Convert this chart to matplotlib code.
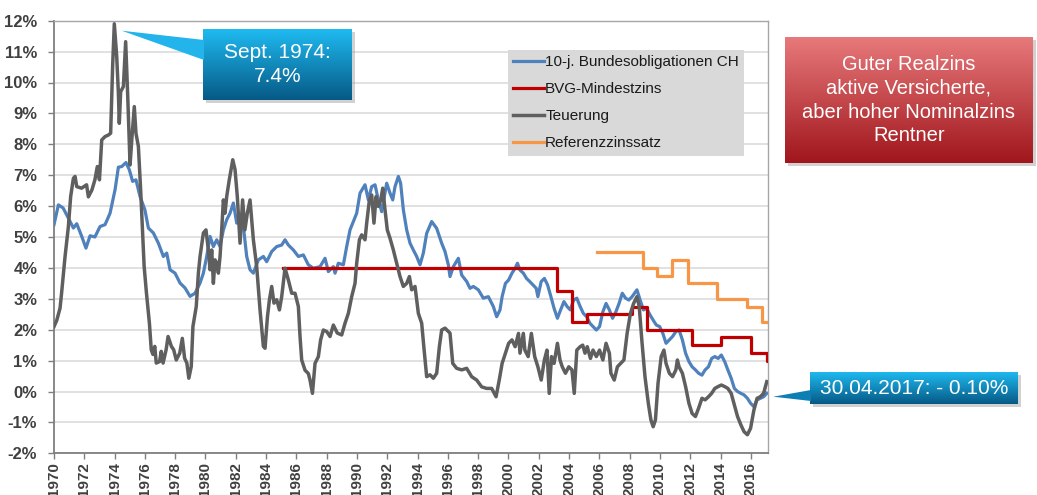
import numpy as np
import matplotlib
matplotlib.use('Agg')
import matplotlib.pyplot as plt
from matplotlib.patches import Polygon, Rectangle
from matplotlib.colors import LinearSegmentedColormap

plt.rcParams['font.family'] = ['Liberation Sans', 'DejaVu Sans']

# ---------------- data ----------------
bond_years = [1970.0, 1970.29, 1970.6, 1970.95, 1971.28, 1971.5, 1971.83, 1972.11, 1972.38, 1972.7,
              1973.04, 1973.37, 1973.7, 1974.03, 1974.25, 1974.47, 1974.75, 1974.97, 1975.19, 1975.41,
              1975.68, 1976.0, 1976.23, 1976.56, 1976.89, 1977.22, 1977.44, 1977.66, 1977.99, 1978.32,
              1978.65, 1978.98, 1979.31, 1979.64, 1979.86, 1980.08, 1980.3, 1980.52, 1980.74, 1980.96,
              1981.18, 1981.4, 1981.62, 1981.84, 1982.06, 1982.28, 1982.5, 1982.72, 1982.94, 1983.16,
              1983.49, 1983.82, 1984.04, 1984.37, 1984.7, 1985.03, 1985.25, 1985.47, 1985.8, 1986.13,
              1986.46, 1986.79, 1987.12, 1987.56, 1987.89, 1988.11, 1988.44, 1988.55, 1988.77, 1989.1,
              1989.32, 1989.54, 1989.76, 1989.98, 1990.2, 1990.53, 1990.75, 1990.97, 1991.19, 1991.41,
              1991.63, 1991.96, 1992.18, 1992.36, 1992.51, 1992.73, 1992.88, 1993.06, 1993.28, 1993.5,
              1993.72, 1993.94, 1994.16, 1994.38, 1994.6, 1994.93, 1995.26, 1995.59, 1995.81, 1996.03,
              1996.14, 1996.36, 1996.69, 1996.91, 1997.24, 1997.46, 1997.68, 1998.01, 1998.34, 1998.67,
              1999.0, 1999.22, 1999.44, 1999.58, 1999.8, 2000.01, 2000.23, 2000.44, 2000.59, 2000.76,
              2000.98, 2001.19, 2001.4, 2001.62, 2001.83, 2001.94, 2002.16, 2002.37, 2002.58, 2002.8,
              2003.01, 2003.23, 2003.44, 2003.66, 2003.87, 2004.08, 2004.3, 2004.51, 2004.73, 2004.94,
              2005.16, 2005.37, 2005.58, 2005.8, 2006.01, 2006.23, 2006.44, 2006.66, 2006.87, 2007.09,
              2007.3, 2007.51, 2007.73, 2007.94, 2008.16, 2008.48, 2008.69, 2008.91, 2009.12, 2009.34,
              2009.55, 2009.76, 2009.98, 2010.19, 2010.4, 2010.62, 2010.83, 2011.05, 2011.26, 2011.48,
              2011.69, 2011.91, 2012.12, 2012.34, 2012.55, 2012.77, 2012.98, 2013.2, 2013.41, 2013.62,
              2013.84, 2014.05, 2014.27, 2014.48, 2014.7, 2014.91, 2015.12, 2015.34, 2015.55, 2015.77,
              2015.98, 2016.2, 2016.41, 2016.62, 2016.84, 2017.05]
bond_vals = [5.40, 6.04, 5.94, 5.61, 5.29, 5.43, 5.02, 4.64, 5.04, 5.00,
             5.34, 5.40, 5.77, 6.53, 7.26, 7.28, 7.41, 7.18, 6.80, 6.85,
             6.31, 5.88, 5.29, 5.13, 4.80, 4.37, 4.48, 3.94, 3.83, 3.51,
             3.35, 3.08, 3.18, 3.51, 3.83, 4.37, 5.02, 4.69, 4.91, 4.69,
             5.23, 5.56, 5.77, 6.10, 5.45, 5.67, 5.34, 4.37, 3.94, 3.83,
             4.26, 4.37, 4.20, 4.53, 4.69, 4.74, 4.91, 4.74, 4.58, 4.37,
             4.42, 4.10, 3.99, 4.04, 4.31, 3.88, 4.04, 3.83, 4.15, 4.10,
             4.69, 5.23, 5.50, 5.77, 6.42, 6.69, 6.20, 6.63, 6.69, 6.20,
             5.82, 6.74, 6.42, 6.20, 6.63, 6.96, 6.74, 5.88, 5.23, 4.80,
             4.58, 4.37, 4.10, 4.48, 5.12, 5.50, 5.28, 4.80, 4.53, 4.10,
             3.72, 4.04, 4.31, 3.77, 3.56, 3.34, 3.40, 3.29, 3.02, 3.07,
             2.75, 2.42, 2.64, 3.07, 3.50, 3.61, 3.83, 3.99, 4.15, 3.93,
             3.83, 3.66, 3.56, 3.45, 3.34, 3.07, 3.56, 3.66, 3.45, 3.07,
             2.69, 2.37, 2.64, 2.91, 2.75, 2.64, 2.96, 3.02, 2.75, 2.53,
             2.42, 2.21, 2.10, 1.99, 2.10, 2.58, 2.85, 2.64, 2.37, 2.58,
             2.85, 3.18, 3.02, 2.96, 3.07, 3.29, 2.96, 2.64, 2.69, 2.48,
             2.31, 2.15, 2.10, 1.88, 1.56, 1.67, 1.78, 1.94, 1.99, 1.67,
             1.24, 0.97, 0.80, 0.70, 0.59, 0.53, 0.70, 0.80, 1.07, 1.13,
             1.07, 1.18, 0.97, 0.70, 0.43, 0.10, 0.00, -0.06, -0.11, -0.22,
             -0.38, -0.49, -0.27, -0.22, -0.17, -0.06]

cpi_years = [1970.0, 1970.18, 1970.4, 1970.5, 1970.73, 1970.95, 1971.1, 1971.28, 1971.39, 1971.5,
             1971.82, 1972.15, 1972.27, 1972.5, 1972.7, 1972.86, 1973.0, 1973.15, 1973.37, 1973.59,
             1973.74, 1973.87, 1973.98, 1974.14, 1974.25, 1974.31, 1974.4, 1974.58, 1974.73, 1974.86,
             1975.02, 1975.15, 1975.3, 1975.41, 1975.57, 1975.72, 1975.85, 1975.95, 1976.1, 1976.3,
             1976.42, 1976.53, 1976.65, 1976.75, 1976.97, 1977.08, 1977.2, 1977.4, 1977.53, 1977.75,
             1977.9, 1978.07, 1978.3, 1978.47, 1978.62, 1978.77, 1978.9, 1979.06, 1979.17, 1979.39,
             1979.53, 1979.64, 1979.86, 1980.03, 1980.19, 1980.3, 1980.41, 1980.52, 1980.63, 1980.74,
             1980.85, 1980.96, 1981.07, 1981.18, 1981.29, 1981.4, 1981.57, 1981.8, 1981.95, 1982.1,
             1982.28, 1982.45, 1982.6, 1982.76, 1982.94, 1983.16, 1983.38, 1983.6, 1983.82, 1983.93,
             1984.09, 1984.22, 1984.37, 1984.52, 1984.7, 1984.88, 1985.03, 1985.25, 1985.47, 1985.69,
             1985.91, 1986.13, 1986.24, 1986.35, 1986.57, 1986.79, 1986.9, 1987.06, 1987.23, 1987.45,
             1987.6, 1987.78, 1988.0, 1988.22, 1988.44, 1988.7, 1988.99, 1989.21, 1989.43, 1989.65,
             1989.87, 1989.98, 1990.16, 1990.31, 1990.53, 1990.64, 1990.82, 1990.97, 1991.12, 1991.26,
             1991.41, 1991.57, 1991.7, 1991.85, 1992.0, 1992.18, 1992.4, 1992.62, 1992.84, 1993.06,
             1993.28, 1993.46, 1993.61, 1993.83, 1994.05, 1994.27, 1994.43, 1994.6, 1994.82, 1995.04,
             1995.26, 1995.44, 1995.59, 1995.81, 1996.14, 1996.32, 1996.58, 1996.91, 1997.24, 1997.57,
             1997.9, 1998.23, 1998.56, 1998.89, 1999.18, 1999.4, 1999.58, 1999.8, 2000.01, 2000.23,
             2000.44, 2000.66, 2000.76, 2000.98, 2001.08, 2001.3, 2001.51, 2001.73, 2001.94, 2002.16,
             2002.37, 2002.54, 2002.69, 2002.84, 2003.01, 2003.23, 2003.4, 2003.55, 2003.76, 2003.98,
             2004.19, 2004.34, 2004.51, 2004.73, 2004.9, 2005.05, 2005.2, 2005.41, 2005.58, 2005.8,
             2006.01, 2006.23, 2006.44, 2006.66, 2006.76, 2006.98, 2007.19, 2007.4, 2007.62, 2007.83,
             2008.05, 2008.26, 2008.48, 2008.63, 2008.8, 2009.01, 2009.23, 2009.4, 2009.55, 2009.7,
             2009.87, 2010.08, 2010.26, 2010.4, 2010.62, 2010.83, 2011.05, 2011.15, 2011.26, 2011.48,
             2011.69, 2011.91, 2012.12, 2012.34, 2012.55, 2012.77, 2012.98, 2013.2, 2013.41, 2013.62,
             2013.84, 2014.05, 2014.27, 2014.48, 2014.7, 2014.91, 2015.12, 2015.34, 2015.55, 2015.77,
             2015.98, 2016.2, 2016.41, 2016.62, 2016.84, 2017.05]
cpi_vals = [2.10, 2.30, 2.70, 3.18, 4.37, 5.34, 6.31, 6.90, 6.96, 6.63,
            6.58, 6.69, 6.30, 6.52, 6.85, 7.28, 6.85, 8.14, 8.25, 8.30,
            8.36, 10.52, 11.90, 10.84, 9.65, 8.68, 9.70, 9.87, 11.32, 9.65,
            7.33, 8.25, 9.22, 8.36, 7.93, 6.52, 5.12, 4.05, 3.20, 2.20,
            1.35, 1.20, 1.46, 0.92, 0.97, 1.30, 0.92, 1.35, 1.78, 1.46,
            1.35, 1.02, 1.24, 1.72, 1.08, 0.92, 0.43, 0.81, 2.10, 2.75,
            3.83, 4.37, 5.13, 5.23, 4.58, 3.94, 4.58, 3.50, 4.26, 4.16,
            3.83, 4.37, 5.23, 6.20, 5.77, 6.31, 6.85, 7.50, 7.18, 6.31,
            4.80, 6.20, 5.23, 5.77, 6.20, 4.91, 4.04, 2.64, 1.46, 1.40,
            2.42, 2.97, 3.40, 2.86, 2.97, 2.64, 3.07, 3.99, 3.61, 3.18,
            3.18, 2.75, 1.78, 1.02, 0.69, 0.58, 0.37, -0.06, 0.91, 1.13,
            1.67, 1.99, 1.94, 1.78, 2.15, 1.89, 1.83, 2.21, 2.53, 3.07,
            3.50, 4.15, 4.91, 5.07, 4.91, 5.45, 6.20, 6.36, 5.45, 6.31,
            5.99, 6.20, 6.58, 5.88, 5.23, 4.96, 4.58, 4.15, 3.72, 3.40,
            3.50, 3.72, 3.29, 3.40, 2.53, 2.21, 1.35, 0.48, 0.54, 0.43,
            0.59, 1.46, 1.99, 2.05, 1.89, 0.91, 0.75, 0.70, 0.75, 0.48,
            0.37, 0.15, 0.10, 0.10, -0.17, 0.40, 0.91, 1.24, 1.56, 1.67,
            1.45, 1.88, 1.24, 1.88, 1.34, 1.13, 1.88, 1.13, 0.80, 0.37,
            1.02, 1.34, -0.06, 1.13, 0.91, 1.56, 1.02, 0.80, 0.59, 0.80,
            0.70, -0.06, 1.34, 1.45, 1.50, 1.24, 1.45, 1.07, 1.34, 1.13,
            1.34, 1.02, 1.56, 1.24, 0.59, 0.37, 0.80, 0.91, 1.02, 1.88,
            2.53, 2.85, 3.07, 2.75, 1.67, 0.48, -0.38, -0.92, -1.14, -0.92,
            0.26, 1.13, 1.34, 0.91, 0.59, 0.48, 0.70, 1.02, 0.80, 0.59,
            0.16, -0.38, -0.71, -0.81, -0.54, -0.22, -0.27, -0.17, -0.06, 0.10,
            0.16, 0.21, 0.16, 0.10, -0.06, -0.44, -0.81, -1.08, -1.30, -1.40,
            -1.19, -0.60, -0.22, -0.17, -0.06, 0.32]

bvg_years = [1985.14, 2003.18, 2004.17, 2005.16, 2008.13, 2009.12, 2012.09, 2014.03, 2015.99, 2017.04, 2017.15]
bvg_vals = [4.0, 3.25, 2.25, 2.5, 2.75, 2.0, 1.5, 1.75, 1.25, 1.0, 1.0]

ref_years = [2005.82, 2008.86, 2009.82, 2010.81, 2011.83, 2013.78, 2015.72, 2016.75, 2017.15]
ref_vals = [4.5, 4.0, 3.75, 4.25, 3.5, 3.0, 2.75, 2.25, 2.25]

series_labels = ['10-j. Bundesobligationen CH', 'BVG-Mindestzins', 'Teuerung', 'Referenzzinssatz']
year_ticks = list(range(1970, 2017, 2))
pct_ticks = list(range(-2, 13))

# ---------------- figure ----------------
W, H = 1037, 495
fig = plt.figure(figsize=(W / 100, H / 100), dpi=100)
fig.patch.set_facecolor('white')

def fx(px):
    return px / W

def fy(py):
    return 1 - py / H

ax = fig.add_axes([fx(54), fy(453.3), (768.3 - 54) / W, (453.3 - 20.7) / H])
ax.set_zorder(0)

ax.plot(bond_years, bond_vals, color='#4F81BD', lw=2.3, label=series_labels[0], zorder=3)
ax.plot(bvg_years, bvg_vals, drawstyle='steps-post', color='#C00000', lw=2.3,
        label=series_labels[1], zorder=4)
ax.plot(cpi_years, cpi_vals, color='#5f5f5f', lw=2.5, label=series_labels[2], zorder=5)
ax.plot(ref_years, ref_vals, drawstyle='steps-post', color='#F79646', lw=2.3,
        label=series_labels[3], zorder=6)

ax.set_xlim(1970, 2017.15)
ax.set_ylim(-2, 12)
ax.set_yticks(pct_ticks)
ax.set_yticklabels([f'{v}%' for v in pct_ticks])
ax.set_xticks(year_ticks)
ax.set_xticklabels([str(y) for y in year_ticks], rotation=90)
ax.yaxis.grid(True, color='#d9d9d9', lw=1.1)
ax.set_axisbelow(True)
for lbl in ax.get_yticklabels():
    lbl.set_fontweight('bold')
    lbl.set_fontsize(12)
    lbl.set_color('#404040')
for lbl in ax.get_xticklabels():
    lbl.set_fontweight('bold')
    lbl.set_fontsize(11)
    lbl.set_color('#404040')
ax.tick_params(axis='both', direction='out', length=4, width=1, color='#7f7f7f')
ax.tick_params(axis='x', pad=2.5)
ax.tick_params(axis='y', pad=8)
for s in ['left', 'bottom']:
    ax.spines[s].set_color('#7f7f7f')
    ax.spines[s].set_linewidth(1.3)
for s in ['top', 'right']:
    ax.spines[s].set_color('#a6a6a6')
    ax.spines[s].set_linewidth(1.0)

leg = ax.legend(loc='upper left', bbox_to_anchor=(fx(507.7), fy(50)), bbox_transform=fig.transFigure,
                frameon=True, facecolor='#d9d9d9', edgecolor='none', fancybox=False, framealpha=1,
                fontsize=11, handlelength=2.0, handletextpad=0.1, labelspacing=0.85,
                borderpad=0.35, borderaxespad=0)
for t in leg.get_texts():
    t.set_color('#1a1a1a')

# ---------------- callouts ----------------
def gradient_box(px0, py0, px1, py1, c_top, c_bot, text, fs, ls=1.2):
    sh = Rectangle((fx(px0 + 3), fy(py1 + 3)), (px1 - px0) / W, (py1 - py0) / H,
                   transform=fig.transFigure, facecolor='#9a9a9a', edgecolor='none',
                   alpha=0.45, zorder=4)
    fig.add_artist(sh)
    bax = fig.add_axes([fx(px0), fy(py1), (px1 - px0) / W, (py1 - py0) / H])
    bax.set_zorder(5)
    grad = np.linspace(0, 1, 256).reshape(-1, 1)
    cmap = LinearSegmentedColormap.from_list('g', [c_top, c_bot])
    bax.imshow(grad, aspect='auto', cmap=cmap, extent=[0, 1, 0, 1], origin='upper')
    bax.set_xlim(0, 1)
    bax.set_ylim(0, 1)
    bax.axis('off')
    bax.text(0.5, 0.5, text, ha='center', va='center', color='white', fontsize=fs,
             transform=bax.transAxes, linespacing=ls)

def wedge(pts, color):
    poly = Polygon([(fx(x), fy(y)) for x, y in pts], closed=True, transform=fig.transFigure,
                   facecolor=color, edgecolor='none', zorder=6)
    fig.add_artist(poly)

gradient_box(203, 29, 352, 100, '#1fbcf3', '#065985', 'Sept. 1974:\n7.4%', 15, 1.4)
wedge([(121.7, 30.7), (204, 40), (204, 60)], '#22b4ea')

gradient_box(810, 371.7, 1018, 404.3, '#1fbcf3', '#065985', '30.04.2017: - 0.10%', 15)
wedge([(773.3, 396.7), (811, 390), (811, 401)], '#0d7fb5')

gradient_box(785, 37.3, 1033, 163.3, '#e87a7c', '#a0161c',
             'Guter Realzins\naktive Versicherte,\naber hoher Nominalzins\nRentner', 14.5, 1.32)

fig.savefig('out.png', dpi=100, facecolor='white')
